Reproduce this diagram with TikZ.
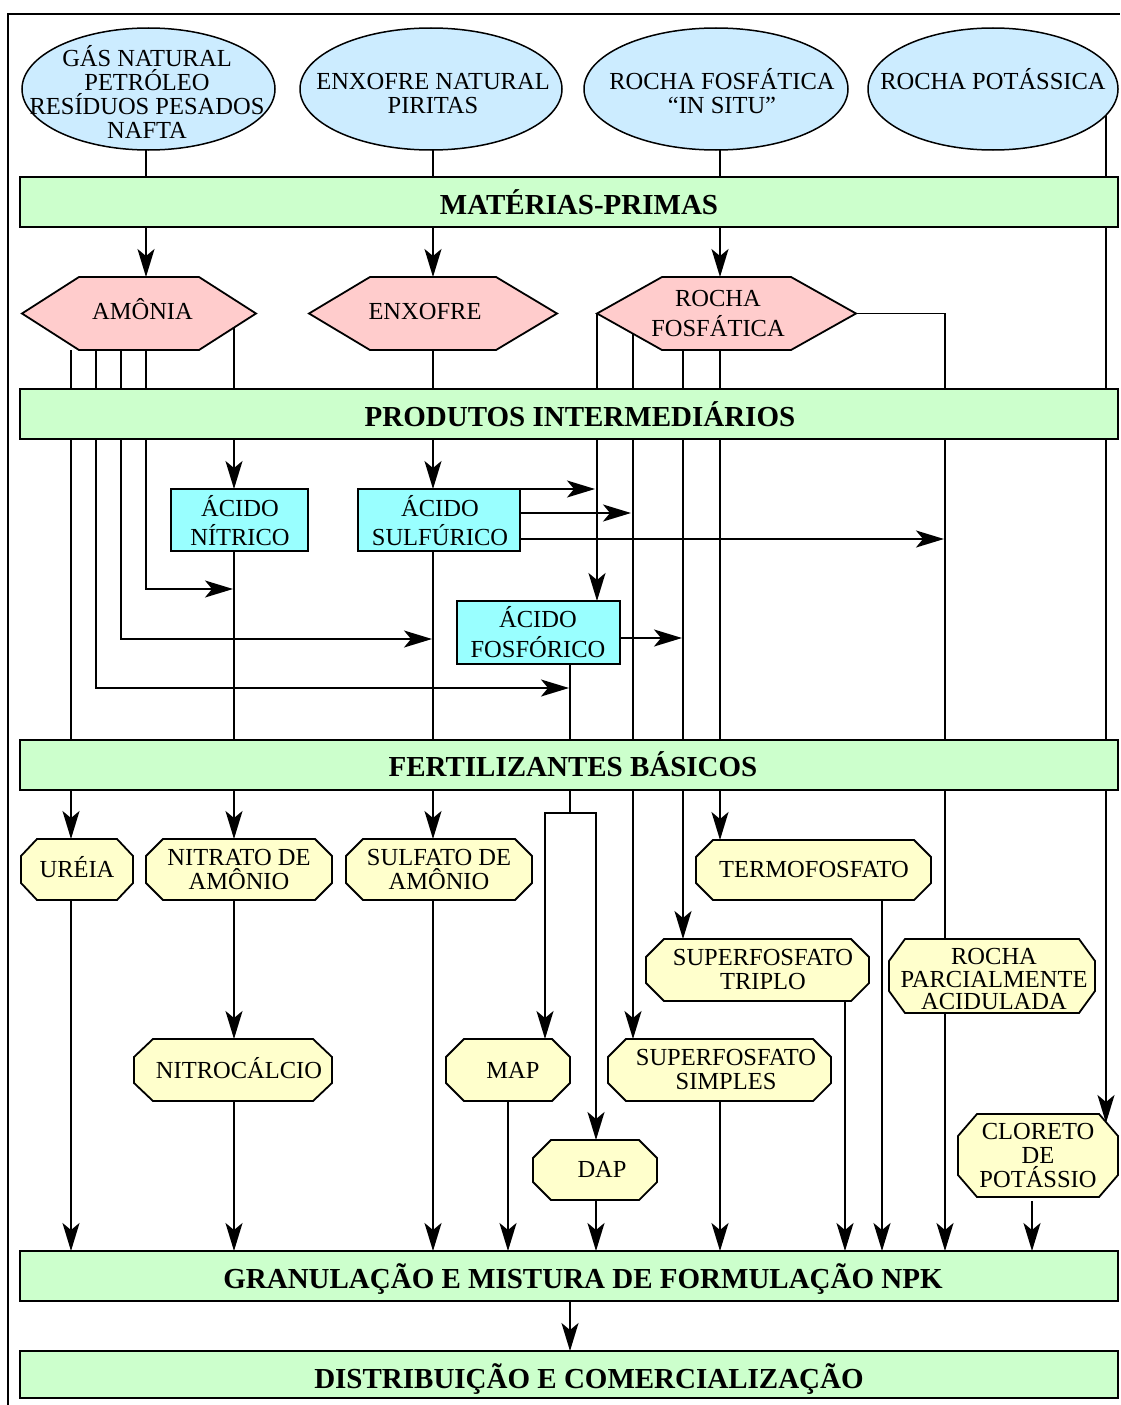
\documentclass[tikz,border=0pt]{standalone}
\usepackage{fontspec}
\setmainfont{Liberation Serif}
\usetikzlibrary{arrows.meta,shapes.geometric,calc}
\definecolor{ellc}{HTML}{CCECFF}
\definecolor{hexc}{HTML}{FFCCCC}
\definecolor{barc}{HTML}{CCFFCC}
\definecolor{acdc}{HTML}{99FFFF}
\definecolor{octc}{HTML}{FFFFCC}
\pgfdeclarelayer{lines}
\pgfsetlayers{lines,main}
\newcommand\txtfont{\fontsize{24.5}{24}\selectfont\lineskiplimit=-50pt\relax}
\newcommand\hdfont{\fontsize{29}{30}\selectfont\bfseries}
\tikzset{
 every node/.style={inner sep=0pt, outer sep=0pt},
 txt/.style={align=center, font=\txtfont,
   execute at begin node={\rule{0pt}{23pt}},
   execute at end node={\rule[-7pt]{0pt}{7pt}}},
 ml/.style={yshift=-4pt},
 hd/.style={font=\hdfont,
   execute at begin node={\rule{0pt}{26pt}},
   execute at end node={\rule[-6.4pt]{0pt}{6.4pt}}},
 ell/.style={ellipse, draw, line width=1.5pt, fill=ellc},
 bar/.style={rectangle, draw, line width=1.8pt, fill=barc, minimum width=1098},
 acid/.style={rectangle, draw, line width=1.8pt, fill=acdc},
 hexfill/.style={draw, line width=1.8pt, fill=hexc},
 octfill/.style={draw, line width=1.8pt, fill=octc},
 ln/.style={line width=1.8pt},
 arr/.style={line width=1.8pt, -{Stealth[length=28pt,width=17pt,inset=7pt]}},
}
% hexagon: name, centre, width, height, inset, text style, text position, text
\newcommand\hexa[8]{%
 \node[minimum width=#3, minimum height=#4] (#1) at (#2) {};
 \filldraw[hexfill] (#1.west) -- ([xshift=#5pt]#1.north west) -- ([xshift=-#5pt]#1.north east)
   -- (#1.east) -- ([xshift=-#5pt]#1.south east) -- ([xshift=#5pt]#1.south west) -- cycle;
 \node[txt,#6] (#1t) at (#7) {#8};}
% octagon: name, x1, y1, x2, y2, chamfer x, chamfer y, text position, text
\newcommand\octa[9]{%
 \node[minimum width={#4-#2}, minimum height={#5-#3}] (#1) at ({(#2+#4)/2},{(#3+#5)/2}) {};
 \filldraw[octfill] (#2+#6,#3) -- (#4-#6,#3) -- (#4,#3+#7) -- (#4,#5-#7) -- (#4-#6,#5)
   -- (#2+#6,#5) -- (#2,#5-#7) -- (#2,#3+#7) -- cycle;
 \octtext{#1}{#8}{#9}}
\newcommand\octtext[3]{\node[txt] (#1t) at (#2) {#3};}
\begin{document}
\begin{tikzpicture}[x=1pt,y=-1pt]
\useasboundingbox (0,0) rectangle (1120,1405);
\draw[line width=1.5pt] (8,1405) -- (8,14) -- (1120,14);

% lanes
\foreach \n/\v in {LA/71,LB/96,LC/121,LD/146,LE/234,LF/433,LG/596,LH/633,LI/683,LJ/720,
  LK/945,LN/570,LP/545,LQ/508,LR/845,LS/882,LT/1032}
  {\coordinate (\n) at (\v,0);}

% raw materials
\node[ell, minimum width=253, minimum height=122] (e1) at (148.5,89) {};
\node[txt] (e1t) at (147,95) {GÁS NATURAL\\PETRÓLEO\\RESÍDUOS PESADOS\\NAFTA};
\node[ell, minimum width=262, minimum height=122] (e2) at (431,89) {};
\node[txt] (e2t) at (433,97) {ENXOFRE NATURAL\\PIRITAS};
\node[ell, minimum width=264, minimum height=122] (e3) at (716,89) {};
\node[txt] (e3t) at (722,94) {ROCHA FOSFÁTICA\\“IN SITU”};
\node[ell, minimum width=250, minimum height=122] (e4) at (993,89) {};
\node[txt] (e4t) at (993,81) {ROCHA POTÁSSICA};

% bars
\node[bar, minimum height=50] (b1) at (569,202) {};
\node[hd] (b1t) at (579,205) {MATÉRIAS-PRIMAS};
\node[bar, minimum height=50] (b2) at (569,414) {};
\node[hd] (b2t) at (580,417) {PRODUTOS INTERMEDIÁRIOS};
\node[bar, minimum height=50] (b3) at (569,765) {};
\node[hd] (b3t) at (573,767) {FERTILIZANTES BÁSICOS};
\node[bar, minimum height=50] (b4) at (569,1276) {};
\node[hd] (b4t) at (583,1279) {GRANULAÇÃO E MISTURA DE FORMULAÇÃO NPK};
\node[bar, minimum height=47] (b5) at (569,1374.5) {};
\node[hd] (b5t) at (589,1379) {DISTRIBUIÇÃO E COMERCIALIZAÇÃO};

% hexagons
\hexa{amo}{139,313.5}{234}{73}{57}{}{142.5,311}{AMÔNIA}
\hexa{enx}{433,313.5}{248}{73}{61}{}{425,311}{ENXOFRE}
\hexa{roc}{726.5,313.5}{259}{73}{65}{ml}{718,313}{ROCHA\\[6pt]FOSFÁTICA}

% acids
\node[acid, minimum width=137, minimum height=62] (nit) at (239.5,520) {};
\node[txt] (nitt) at (240,523.5) {ÁCIDO\\[5pt]NÍTRICO};
\node[acid, minimum width=162, minimum height=62] (sul) at (439,520) {};
\node[txt] (sult) at (440,523.5) {ÁCIDO\\[5pt]SULFÚRICO};
\node[acid, minimum width=163, minimum height=63] (fos) at (538.5,632.5) {};
\node[txt] (fost) at (538,635) {ÁCIDO\\[6pt]FOSFÓRICO};

% basic fertilizers
\octa{ure}{21}{839}{133}{900}{16}{17}{77,869.5}{URÉIA}
\octa{nam}{146}{839}{332}{900}{17}{17}{239,873}{NITRATO DE\\AMÔNIO}
\octa{sam}{346}{839}{532}{900}{17}{17}{439,873}{SULFATO DE\\AMÔNIO}
\octa{ter}{696}{840}{931}{900}{17}{17}{814,869}{TERMOFOSFATO}
\octa{sft}{646}{939}{869}{1001}{18}{18}{763,973}{SUPERFOSFATO\\TRIPLO}
\octa{rpa}{889}{939}{1095}{1013}{16}{22}{994,982.5}{ROCHA\\[-1.5pt]PARCIALMENTE\\[-1.5pt]ACIDULADA}
\octa{nca}{134}{1039}{332}{1101}{19}{18}{239,1070}{NITROCÁLCIO}
\octa{map}{446}{1039}{570}{1101}{18}{18}{513,1070}{MAP}
\octa{sfs}{608}{1039}{831}{1101}{18}{18}{726,1073}{SUPERFOSFATO\\SIMPLES}
\octa{dap}{533}{1140}{657}{1200}{18}{18}{602,1169.5}{DAP}
\octa{clo}{958}{1114}{1118}{1197}{19}{22}{1038,1159}{CLORETO\\DE\\POTÁSSIO}

% junction coordinates
\coordinate (a5) at (234,327.6);
\coordinate (r2) at (633,333.7);
\coordinate (j1) at (569,688);
\coordinate (j2) at (432,639);
\coordinate (j3) at (233,589);
\coordinate (j4) at (595,489);
\coordinate (j5) at (631,513);
\coordinate (j6) at (944,539);
\coordinate (j7) at (682,638);
\coordinate (sp) at (570,813);
\coordinate (ct) at (1106,1123);

\begin{pgfonlayer}{lines}
% raw materials to bar
\draw[ln] (e1.south -| LD) -- (b1.north -| LD);
\draw[ln] (e2.south -| LF) -- (b1.north -| LF);
\draw[ln] (e3.south -| LJ) -- (b1.north -| LJ);
\draw[arr] (e4.-13) -- (e4.-13 |- ct);
% bar to hexagons
\draw[arr] (b1.south -| LD) -- (amo.north -| LD);
\draw[arr] (b1.south -| LF) -- (enx.north -| LF);
\draw[arr] (b1.south -| LJ) -- (roc.north -| LJ);
% ammonia
\draw[arr] (amo.south -| LA) -- (ure.north -| LA);
\draw[arr] (amo.south -| LB) |- (j1);
\draw[arr] (amo.south -| LC) |- (j2);
\draw[arr] (amo.south -| LD) |- (j3);
\draw[arr] (a5) -- (nit.north -| LE);
% sulphur
\draw[arr] (enx.south -| LF) -- (sul.north -| LF);
\draw[arr] (sul.north east) -- (j4);
\draw[arr] (sul.east |- j5) -- (j5);
\draw[arr] (sul.east |- j6) -- (j6);
% phosphate rock
\draw[arr] (roc.west) -- (roc.west |- fos.north);
\draw[arr] (r2) -- (sfs.north -| LH);
\draw[arr] (roc.south -| LI) -- (sft.north -| LI);
\draw[arr] (roc.south -| LJ) -- (ter.north -| LJ);
\draw[ln] (roc.east) -| (rpa.north -| LK);
% acids
\draw[arr] (nit.south -| LE) -- (nam.north -| LE);
\draw[arr] (sul.south -| LF) -- (sam.north -| LF);
\draw[arr] (fos.east |- j7) -- (j7);
\draw[ln] (fos.south -| LN) -- (sp);
\draw[arr] (sp) -| (map.north -| LP);
\draw[arr] (sp) -| (dap.north -| LG);
% fertilizers
\draw[arr] (nam.south -| LE) -- (nca.north -| LE);
\draw[arr] (ure.south -| LA) -- (b4.north -| LA);
\draw[arr] (nca.south -| LE) -- (b4.north -| LE);
\draw[arr] (sam.south -| LF) -- (b4.north -| LF);
\draw[arr] (map.south -| LQ) -- (b4.north -| LQ);
\draw[arr] (dap.south -| LG) -- (b4.north -| LG);
\draw[arr] (sfs.south -| LJ) -- (b4.north -| LJ);
\draw[arr] (sft.south -| LR) -- (b4.north -| LR);
\draw[arr] (ter.south -| LS) -- (b4.north -| LS);
\draw[arr] (rpa.south -| LK) -- (b4.north -| LK);
\draw[arr] ([yshift=-4pt]clo.south -| LT) -- (b4.north -| LT);
\draw[arr] (b4.south -| LN) -- (b5.north -| LN);
\end{pgfonlayer}
\end{tikzpicture}
\end{document}
